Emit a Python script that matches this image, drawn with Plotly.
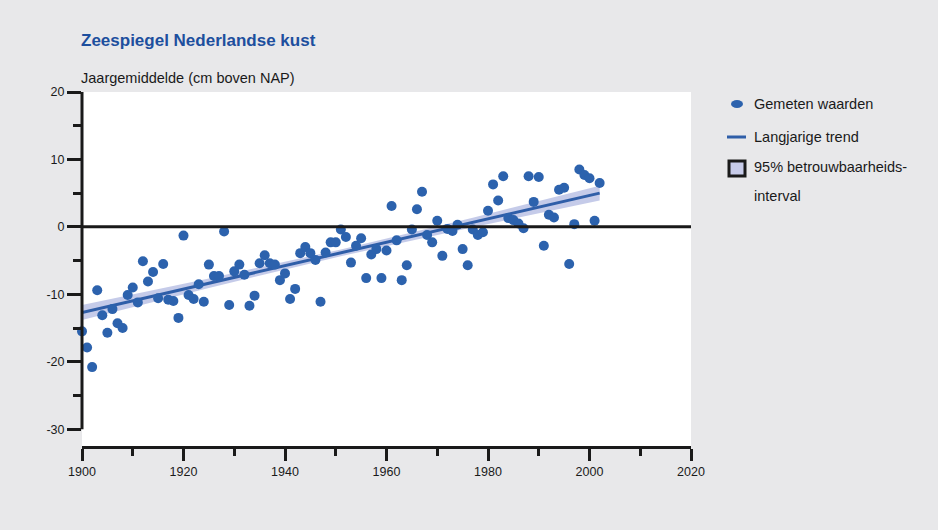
import plotly.graph_objects as go

# Annual mean sea level along the Dutch coast (cm relative to NAP)
years = list(range(1900, 2003))
sea_level = [
    -15.5, -17.9, -20.8, -9.4, -13.1, -15.7, -12.2, -14.3, -15.0, -10.1,   # 1900-1909
    -9.0, -11.2, -5.1, -8.1, -6.7, -10.6, -5.5, -10.8, -11.0, -13.5,       # 1910-1919
    -1.3, -10.1, -10.7, -8.5, -11.1, -5.6, -7.3, -7.3, -0.7, -11.6,        # 1920-1929
    -6.6, -5.6, -7.1, -11.7, -10.2, -5.4, -4.2, -5.4, -5.6, -7.9,          # 1930-1939
    -6.9, -10.7, -9.2, -3.9, -3.0, -3.9, -4.9, -11.1, -3.8, -2.3,          # 1940-1949
    -2.3, -0.4, -1.5, -5.3, -2.8, -1.7, -7.6, -4.1, -3.3, -7.6,            # 1950-1959
    -3.5, 3.1, -2.0, -7.9, -5.7, -0.4, 2.6, 5.2, -1.2, -2.3,               # 1960-1969
    0.9, -4.3, -0.3, -0.6, 0.3, -3.3, -5.7, -0.4, -1.2, -0.8,              # 1970-1979
    2.4, 6.3, 3.9, 7.5, 1.3, 1.0, 0.5, -0.2, 7.5, 3.7,                     # 1980-1989
    7.4, -2.8, 1.8, 1.4, 5.5, 5.8, -5.5, 0.4, 8.5, 7.7,                    # 1990-1999
    7.2, 0.9, 6.5,                                                         # 2000-2002
]

# Long-term linear trend
trend_years = [1900, 2002]
trend_values = [-12.7, 5.0]

# 95% confidence band around the trend
band_years = [1900, 1925, 1951, 1977, 2002]
band_upper = [-11.6, -7.65, -3.35, 1.35, 6.1]
band_lower = [-13.8, -9.05, -4.35, -0.05, 3.9]

x_tickvals = [1900, 1920, 1940, 1960, 1980, 2000, 2020]
x_ticktext = ["1900", "1920", "1940", "1960", "1980", "2000", "2020"]
x_minor = [1910, 1930, 1950, 1970, 1990, 2010]
y_tickvals = [-30, -20, -10, 0, 10, 20]
y_ticktext = ["-30", "-20", "-10", "0", "10", "20"]
y_minor = [-25, -15, -5, 5, 15]

title_text = "Zeespiegel Nederlandse kust"
unit_text = "Jaargemiddelde (cm boven NAP)"
legend_labels = ["Gemeten waarden", "Langjarige trend", "95% betrouwbaarheids-", "interval"]

BLUE = "#2c62ad"
LINE_BLUE = "#2f5ea8"
BAND = "rgba(150,160,215,0.55)"
BAND_SWATCH = "#c7cbe9"
INK = "#1a1a1a"
BG = "#e8e8ea"
FONT = "Liberation Sans, Arial, sans-serif"

fig = go.Figure()

fig.add_trace(go.Scatter(
    x=band_years + band_years[::-1],
    y=band_upper + band_lower[::-1],
    fill="toself", fillcolor=BAND, line=dict(width=0),
    mode="lines", hoverinfo="skip", name="95% betrouwbaarheidsinterval",
))
fig.add_trace(go.Scatter(
    x=trend_years, y=trend_values, mode="lines",
    line=dict(color=LINE_BLUE, width=3), name="Langjarige trend",
))
fig.add_trace(go.Scatter(
    x=years, y=sea_level, mode="markers",
    marker=dict(color=BLUE, size=10, line=dict(width=0)),
    cliponaxis=False, name="Gemeten waarden",
))

# plot geometry in pixels (used for paper-coordinate placement of decorations)
L, R, T, B = 82, 247, 92, 84
W, H = 938, 530
pw, ph = W - L - R, H - T - B


def px(x):
    return (x - L) / pw


def py(y):
    return (H - B - y) / ph


shapes = [
    # vertical axis line from -30 to 20
    dict(type="line", xref="paper", yref="y", x0=0, x1=0, y0=-30, y1=20,
         line=dict(color=INK, width=3)),
    # zero reference line
    dict(type="line", xref="paper", yref="y", x0=0, x1=1, y0=0, y1=0,
         line=dict(color=INK, width=3)),
    # legend swatches
    dict(type="circle", xref="paper", yref="paper", xsizemode="pixel", ysizemode="pixel",
         xanchor=px(737), yanchor=py(104), x0=-6, x1=6, y0=-4, y1=4,
         fillcolor=BLUE, line=dict(width=0)),
    dict(type="line", xref="paper", yref="paper", x0=px(727), x1=px(746),
         y0=py(137), y1=py(137), line=dict(color=LINE_BLUE, width=3)),
    dict(type="rect", xref="paper", yref="paper", x0=px(729), x1=px(745),
         y0=py(176), y1=py(161), fillcolor=BAND_SWATCH, line=dict(color=INK, width=3)),
]

annotations = [
    dict(text="<b>" + title_text + "</b>", xref="paper", yref="paper",
         x=px(79), y=py(40), xanchor="left", yanchor="middle", showarrow=False,
         font=dict(family=FONT, size=17, color="#1d4f9e")),
    dict(text=unit_text, xref="paper", yref="paper",
         x=px(79), y=py(78), xanchor="left", yanchor="middle", showarrow=False,
         font=dict(family=FONT, size=14.5, color=INK)),
]
for label, ypos in zip(legend_labels, [104, 137, 167, 196]):
    annotations.append(dict(
        text=label, xref="paper", yref="paper", x=px(752), y=py(ypos),
        xanchor="left", yanchor="middle", showarrow=False,
        font=dict(family=FONT, size=14.5, color=INK)))

fig.update_layout(
    width=W, height=H,
    margin=dict(l=L, r=R, t=T, b=B, pad=0),
    paper_bgcolor=BG, plot_bgcolor="white",
    showlegend=False,
    font=dict(family=FONT, size=12, color=INK),
    shapes=shapes, annotations=annotations,
    xaxis=dict(
        range=[1900, 2020], tickmode="array", tickvals=x_tickvals, ticktext=x_ticktext,
        ticks="outside", ticklen=12, tickwidth=3, tickcolor=INK,
        showline=True, linewidth=3, linecolor=INK,
        showgrid=False, zeroline=False,
        tickfont=dict(family=FONT, size=12.5, color=INK),
        minor=dict(tickmode="array", tickvals=x_minor, ticks="outside",
                   ticklen=7, tickwidth=3, tickcolor=INK, showgrid=False),
    ),
    yaxis=dict(
        range=[-32.5, 20], tickmode="array", tickvals=y_tickvals, ticktext=y_ticktext,
        ticks="outside", ticklen=14, tickwidth=3, tickcolor=INK,
        showline=False, showgrid=False, zeroline=False,
        tickfont=dict(family=FONT, size=12.5, color=INK),
        minor=dict(tickmode="array", tickvals=y_minor, ticks="outside",
                   ticklen=8, tickwidth=3, tickcolor=INK, showgrid=False),
    ),
)

fig.write_html("out.html")
